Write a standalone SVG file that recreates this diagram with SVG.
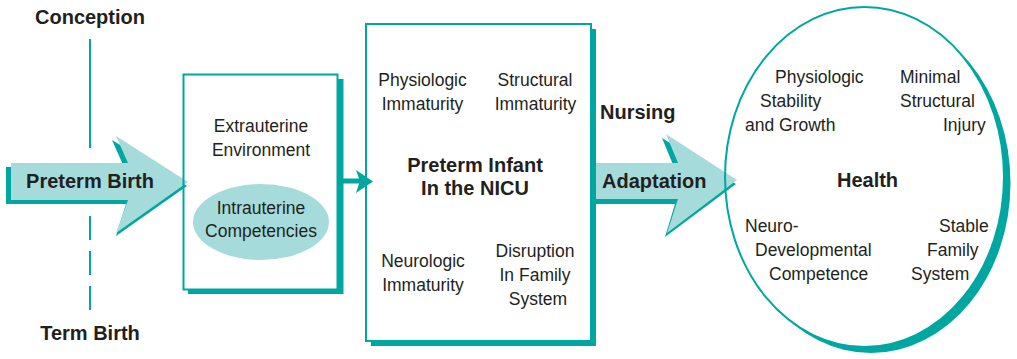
<svg xmlns="http://www.w3.org/2000/svg" width="1017" height="359" viewBox="0 0 1017 359">
<style>
.t{font-family:"Liberation Sans",Arial,sans-serif;font-size:17.5px;fill:#231F20}
.b{font-family:"Liberation Sans",Arial,sans-serif;font-size:20px;font-weight:bold;fill:#231F20}
.m{text-anchor:middle}
.dark{fill:#00A7A0}
.light{fill:#A5DBDA}
.border{fill:none;stroke:#00A7A0;stroke-width:2}
.tl{stroke:#00A7A0;stroke-width:2;fill:none}
</style>
<defs>
<mask id="ellMask"><rect width="1017" height="359" fill="white"/><ellipse cx="864.5" cy="177" rx="139.5" ry="170" fill="black"/></mask>
</defs>
<rect width="1017" height="359" fill="#ffffff"/>
<g id="timeline">
<line class="tl" x1="90" y1="39" x2="90" y2="148"/>
<line class="tl" x1="90" y1="216" x2="90" y2="311" stroke-dasharray="24 11"/>
<text class="b m" x="90" y="24">Conception</text>
<text class="b m" x="90" y="340">Term Birth</text>
</g>
<g id="connectors">
<g id="preterm-birth-arrow">
<polygon class="dark" points="6,167 124,167 112,140 187,186 116,236 126,204 6,204"/>
<polygon class="light" points="11,163 128,163 116,136 188,182 116,233 128,200 11,200"/>
<text class="b m" x="90" y="188">Preterm Birth</text>
</g>
<polygon id="box1-to-box2" class="dark" points="343,178.5 359,178.5 356,170 373,181.5 356,193 359,183.5 343,183.5"/>
<g id="adaptation-arrow">
<polygon class="dark" points="595,167 674,167 662,138 736,184 665,237 675,204 595,204"/>
<polygon class="light" points="595,163 678,163 666,134 737,180 667,233 678,199 595,199"/>
<text class="b" x="602" y="188">Adaptation</text>
</g>
<text class="b" x="600" y="119">Nursing</text>
</g>
<g id="environment-box">
<path class="dark" d="M338,79 H343.5 V294 H188 V289.5 H338 Z"/>
<rect class="border" x="183.5" y="74.5" width="154" height="215"/>
<text class="t m" x="261" y="132">Extrauterine</text>
<text class="t m" x="261" y="155.5">Environment</text>
<ellipse class="light" cx="261" cy="222" rx="68" ry="38"/>
<text class="t m" x="261" y="214">Intrauterine</text>
<text class="t m" x="261" y="237">Competencies</text>
</g>
<g id="infant-box">
<path class="dark" d="M591,29 H596 V346 H371 V341 H591 Z"/>
<rect class="border" x="366" y="24" width="225" height="317"/>
<text class="t m" x="422.5" y="86">Physiologic</text>
<text class="t m" x="422.5" y="110">Immaturity</text>
<text class="t m" x="535" y="86">Structural</text>
<text class="t m" x="535.5" y="110">Immaturity</text>
<text class="b m" x="475" y="172">Preterm Infant</text>
<text class="b m" x="475" y="195">In the NICU</text>
<text class="t m" x="423" y="267">Neurologic</text>
<text class="t m" x="423" y="291">Immaturity</text>
<text class="t m" x="535" y="256.5">Disruption</text>
<text class="t m" x="535" y="280.5">In Family</text>
<text class="t m" x="538" y="304.5">System</text>
</g>
<g id="health-ellipse">
<ellipse class="dark" cx="871" cy="183" rx="139.5" ry="170" mask="url(#ellMask)"/>
<ellipse class="border" cx="864.5" cy="177" rx="139.5" ry="170"/>
<text class="t" x="775" y="82.5">Physiologic</text>
<text class="t" x="760" y="106.5">Stability</text>
<text class="t" x="745" y="130.5">and Growth</text>
<text class="t" x="900" y="82.5">Minimal</text>
<text class="t" x="900" y="106.5">Structural</text>
<text class="t" x="943" y="130.5">Injury</text>
<text class="b m" x="867.5" y="187">Health</text>
<text class="t" x="745" y="232">Neuro-</text>
<text class="t" x="755" y="256">Developmental</text>
<text class="t" x="769" y="280">Competence</text>
<text class="t" x="939" y="232">Stable</text>
<text class="t" x="927" y="256">Family</text>
<text class="t" x="911" y="280">System</text>
</g>
</svg>
